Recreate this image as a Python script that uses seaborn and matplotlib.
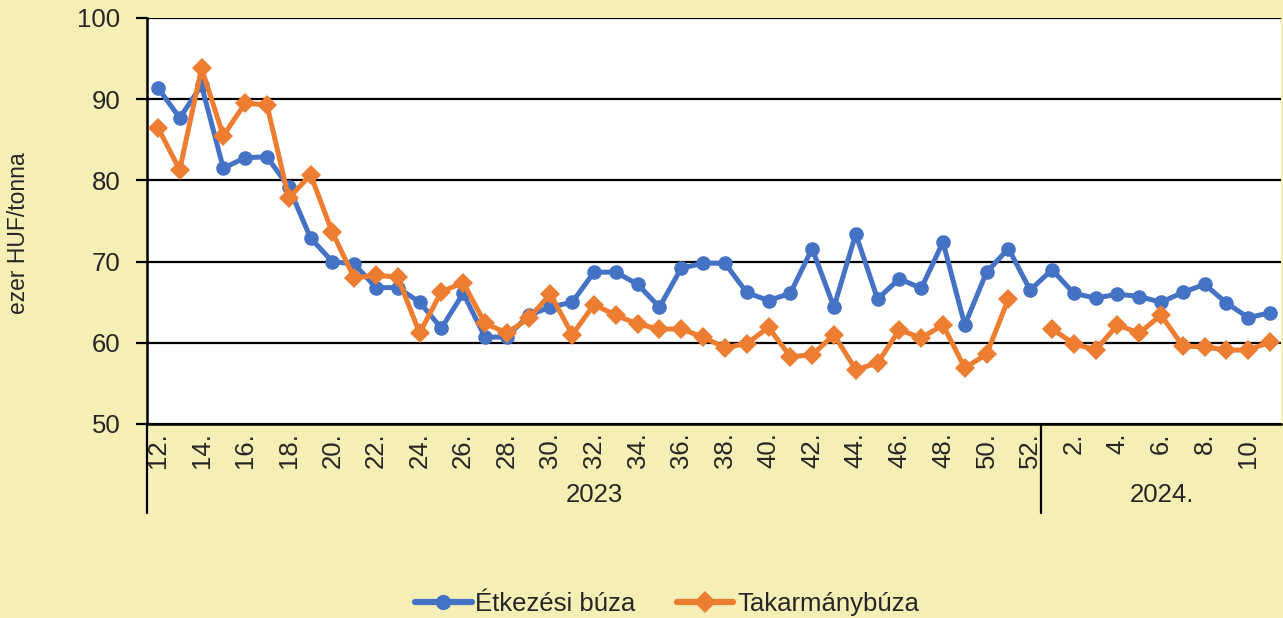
import numpy as np
import pandas as pd
import matplotlib
matplotlib.use("Agg")
import matplotlib.pyplot as plt
import matplotlib.transforms as mtransforms
import seaborn as sns

# ---- data ----
weeks_2023 = list(range(12, 53))
weeks_2024 = list(range(1, 12))
etkezesi_2023 = [91.4, 87.7, 91.7, 81.5, 82.8, 82.9, 79.2, 72.9, 70.0, 69.7, 66.8, 66.8,
                 65.0, 61.8, 66.1, 60.7, 60.7, 63.4, 64.4, 65.0, 68.7, 68.7, 67.2, 64.4,
                 69.2, 69.8, 69.8, 66.2, 65.2, 66.1, 71.6, 64.4, 73.4, 65.4, 67.9, 66.7,
                 72.4, 62.2, 68.7, 71.6, 66.5]
etkezesi_2024 = [69.0, 66.1, 65.5, 66.0, 65.7, 65.0, 66.2, 67.2, 64.9, 63.1, 63.7]
takarmany_2023 = [86.5, 81.3, 93.8, 85.5, 89.5, 89.3, 77.8, 80.7, 73.6, 68.0, 68.3, 68.1,
                  61.2, 66.3, 67.4, 62.4, 61.2, 63.0, 66.0, 61.0, 64.7, 63.4, 62.3, 61.7,
                  61.7, 60.7, 59.4, 59.9, 61.9, 58.3, 58.5, 61.0, 56.7, 57.5, 61.6, 60.6,
                  62.2, 56.9, 58.6, 65.4, np.nan]
takarmany_2024 = [61.7, 59.9, 59.1, 62.2, 61.2, 63.4, 59.6, 59.5, 59.1, 59.1, 60.1]
series_names = ["Étkezési búza", "Takarmánybúza"]
year_labels = ["2023", "2024."]
y_ticks = [50, 60, 70, 80, 90, 100]

# ---- build long table ----
n23, n24 = len(weeks_2023), len(weeks_2024)
pos = np.arange(n23 + n24)
rows = []
for name, vals in zip(series_names, [etkezesi_2023 + etkezesi_2024,
                                      takarmany_2023 + takarmany_2024]):
    seg = 0
    for p, v in zip(pos, vals):
        if v is None or (isinstance(v, float) and np.isnan(v)):
            seg += 1
            continue
        rows.append({"pos": p, "value": v, "series": name, "seg": f"{name}-{seg}"})
df = pd.DataFrame(rows)

# ---- style ----
bg = "#F5EFB5"
sns.set_style("white")
plt.rcParams["font.family"] = ["Liberation Sans", "DejaVu Sans"]
FS = 18.5

fig = plt.figure(figsize=(12.83, 6.18), dpi=100, facecolor=bg)
ax = fig.add_axes([147 / 1283, 1 - 424 / 618, 1134 / 1283, 406 / 618])
ax.set_facecolor("white")

palette = {series_names[0]: "#4472C4", series_names[1]: "#ED7D31"}
markers = {series_names[0]: "o", series_names[1]: "D"}
sns.lineplot(data=df, x="pos", y="value", hue="series", style="series",
             units="seg", estimator=None, palette=palette, markers=markers,
             dashes=False, linewidth=3.6, markersize=10.5, markeredgewidth=0,
             ax=ax, zorder=3)

ax.set_xlim(-0.5, n23 + n24 - 0.5)
ax.set_ylim(50, 100)
ax.set_yticks(y_ticks)
ax.yaxis.grid(True, color="black", linewidth=1.6)
ax.set_axisbelow(True)

tick_pos = [i for i in range(0, n23, 2)] + [n23 + i for i in range(1, n24 - 1, 2)]
tick_lab = [f"{w}." for w in weeks_2023[::2]] + [f"{w}." for w in weeks_2024[1:n24 - 1:2]]
ax.set_xticks(tick_pos)
ax.set_xticklabels(tick_lab, rotation=90, fontsize=FS)
ax.tick_params(axis="x", length=0, pad=6)
ax.tick_params(axis="y", length=8, width=1.6, color="black", labelsize=FS, pad=11,
               direction="out", left=True)

for s in ["top", "right"]:
    ax.spines[s].set_visible(False)
for s in ["left", "bottom"]:
    ax.spines[s].set_color("black")
    ax.spines[s].set_linewidth(1.8)

ax.set_xlabel("")
ax.set_ylabel("ezer HUF/tonna", fontsize=16.5)
ax.yaxis.set_label_coords((30 - 147) / 1134, 0.47)

# group separators and year labels
trans = mtransforms.blended_transform_factory(ax.transData, ax.transAxes)
ybot = (424 - 513) / 406
for xs in [-0.5, n23 - 0.5]:
    ax.plot([xs, xs], [0, ybot], color="black", lw=1.6, transform=trans, clip_on=False)
ylab = (424 - 495) / 406
ax.text((n23 - 1) / 2, ylab, year_labels[0], transform=trans, ha="center", va="center",
        fontsize=FS)
ax.text(n23 - 0.5 + (1283 - 1041) / 2 / 21.8, ylab, year_labels[1], transform=trans,
        ha="center", va="center", fontsize=FS)

sns.move_legend(ax, "center", bbox_to_anchor=((667 - 147) / 1134, (424 - 604) / 406),
                ncol=2, frameon=False, title=None, fontsize=FS, handlelength=2.2,
                columnspacing=1.6, handletextpad=0.15)
for h in ax.get_legend().legend_handles:
    h.set_linewidth(4.5)
    h.set_markersize(11)

fig.savefig("out.png", dpi=100, facecolor=bg)
